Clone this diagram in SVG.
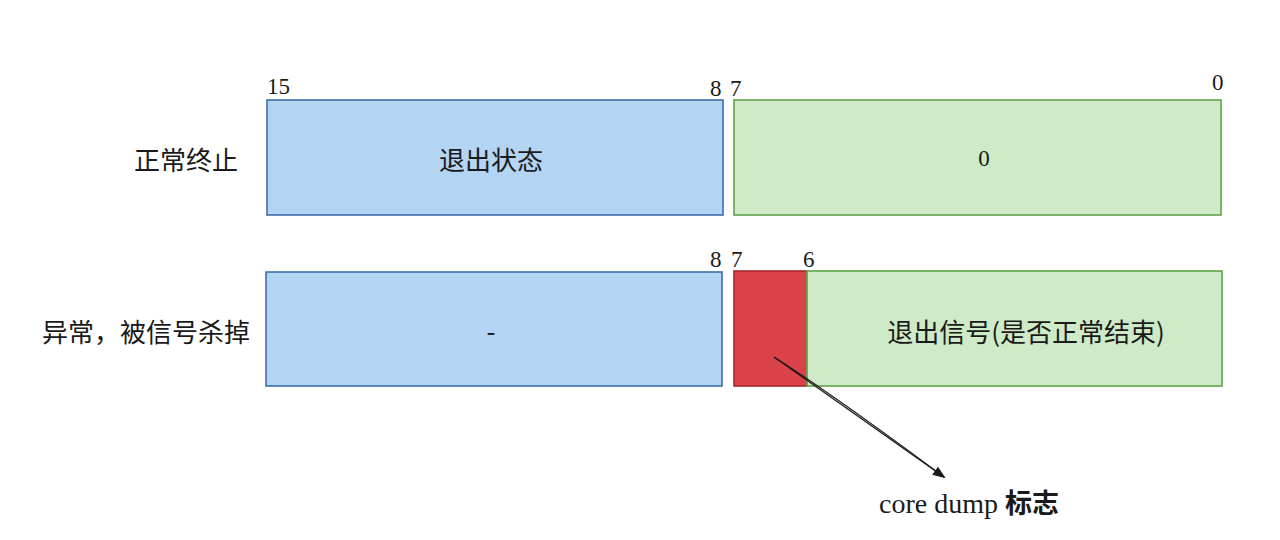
<svg xmlns="http://www.w3.org/2000/svg" width="1280" height="540" viewBox="0 0 1280 540">
<defs>
<style>
.blue{fill:#b4d4f4;stroke:#3f6fa8;stroke-width:1.6}
.green{fill:#cfeac6;stroke:#5fa34a;stroke-width:1.6}
.red{fill:#dc4249;stroke:#a8262b;stroke-width:1.6}
.num{font-family:"Liberation Serif","Noto Serif",serif;font-size:23px;fill:#1a1a1a}
.cn{font-family:"Noto Sans CJK SC","Noto Sans",sans-serif;font-size:26px;fill:#1a1a1a}
.ctr{text-anchor:middle;dominant-baseline:central}
.conn{fill:none;stroke:#1a1a1a;stroke-width:1.2}
</style>
<marker id="ah" markerWidth="13" markerHeight="10" refX="11" refY="5" orient="auto" markerUnits="userSpaceOnUse">
<path d="M0,0 L13,5 L0,10 z" fill="#1a1a1a"/>
</marker>
</defs>
<rect width="1280" height="540" fill="#ffffff"/>
<g id="row-labels">
<text class="cn" x="238" y="158" text-anchor="end" dominant-baseline="central">正常终止</text>
<text class="cn" x="250" y="330" text-anchor="end" dominant-baseline="central">异常，被信号杀掉</text>
</g>
<g id="bit-labels">
<text class="num" x="267" y="94">15</text>
<text class="num" x="710" y="96">8</text>
<text class="num" x="730" y="96">7</text>
<text class="num" x="1212" y="90">0</text>
<text class="num" x="710" y="267">8</text>
<text class="num" x="731" y="267">7</text>
<text class="num" x="803" y="267">6</text>
</g>
<g id="n-exit-status">
<rect class="blue" x="267" y="100" width="456" height="115"/>
<text class="cn ctr" x="491" y="158">退出状态</text>
</g>
<g id="n-zero">
<rect class="green" x="734" y="100" width="487" height="115"/>
<text class="num ctr" x="984" y="158">0</text>
</g>
<g id="n-dash">
<rect class="blue" x="266" y="272" width="456" height="114"/>
<text class="cn ctr" x="491" y="329">-</text>
</g>
<g id="n-core">
<rect class="red" x="734" y="271" width="73" height="115"/>
</g>
<g id="n-signal">
<rect class="green" x="807" y="271" width="415" height="115"/>
<text class="cn ctr" x="1026" y="330">退出信号(是否正常结束)</text>
</g>
<g id="connectors">
<path class="conn" d="M774,357 L944,477" marker-end="url(#ah)"/>
<path class="conn" d="M774,357 Q835,396 944,477"/>
</g>
<g id="n-core-label">
<text x="879" y="513"><tspan class="num" style="font-size:28px">core dump </tspan><tspan class="cn" style="font-size:27px;font-weight:bold">标志</tspan></text>
</g>
</svg>
